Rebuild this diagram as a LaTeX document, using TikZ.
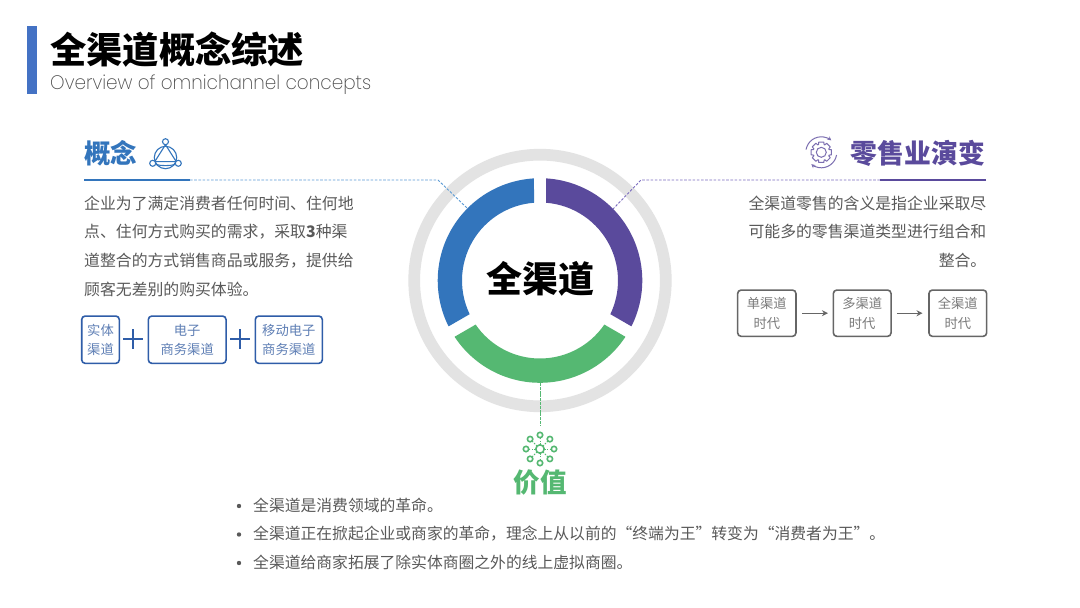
\documentclass[tikz,border=0pt]{standalone}
\usepackage{fontspec}
\setmainfont{Noto Sans CJK SC}
\newfontfamily\subfont[FakeStretch=0.94]{Poppins ExtraLight}
\usetikzlibrary{arrows.meta}
\definecolor{barblue}{HTML}{4472C4}
\definecolor{cblue}{HTML}{3375BC}
\definecolor{cpurple}{HTML}{5A4A9C}
\definecolor{cgreen}{HTML}{55B872}
\definecolor{lblue}{HTML}{5B9BD5}
\definecolor{lpurple}{HTML}{7B6CC0}
\definecolor{boxblue}{HTML}{2F5DA8}
\definecolor{boxtext}{HTML}{5F7FB5}
\definecolor{boxgray}{HTML}{666666}
\definecolor{bodygray}{HTML}{595959}
\definecolor{ringgray}{HTML}{E3E3E3}
\tikzset{
  heading/.style={inner sep=0pt,font=\fontsize{26.5}{30}\selectfont\bfseries},
  bodytext/.style={inner sep=0pt,text=bodygray,font=\fontsize{15.85}{28.7}\selectfont},
  bullettext/.style={inner sep=0pt,anchor=west,text=bodygray,font=\fontsize{15.8}{18}\selectfont},
  bluebox/.style={draw=boxblue,line width=1.6pt,rounded corners=3.5pt,text=boxtext,inner sep=0pt,align=center,font=\fontsize{13.3}{19}\selectfont},
  graybox/.style={draw=boxgray,line width=1.6pt,rounded corners=3.5pt,text=bodygray!80,inner sep=0pt,align=center,font=\fontsize{13.3}{19.5}\selectfont},
  flowarrow/.style={draw=boxgray,line width=1.3pt,-{Stealth[length=6pt,width=6pt]}},
  plusbar/.style={draw=boxblue,line width=1.7pt},
  leader/.style={line width=.9pt,dash pattern=on 2.6pt off 1.6pt},
  bulletdot/.style={fill=bodygray,circle,inner sep=0pt,minimum size=4.4pt},
}
\begin{document}
\begin{tikzpicture}[x=1pt,y=1pt,yscale=-1]
\useasboundingbox (0,0) rectangle (1080,608);
\fill[white] (0,0) rectangle (1080,608);

% header
\fill[barblue] (27,26) rectangle (37,93.5);
\node[inner sep=0pt,anchor=west,font=\fontsize{36.3}{40}\selectfont\bfseries] (title) at (50,50) {全渠道概念综述};
\node[inner sep=0pt,anchor=west,text=black!70,font=\subfont\fontsize{19.6}{22}\selectfont] (subtitle) at (50,85) {Overview of omnichannel concepts};

% rings
\draw[ringgray,line width=11.7pt] (540,280.5) circle (125.8);
\begin{scope}[shift={(540,280.5)}]
\fill[cblue] (-93.37:102.3) arc (-93.37:-206.63:102.3) -- (-205.59:78) arc (-205.59:-94.41:78) -- cycle;
\fill[cgreen] (-213.37:102.3) arc (-213.37:-326.63:102.3) -- (-325.59:78) arc (-325.59:-214.41:78) -- cycle;
\fill[cpurple] (-333.37:102.3) arc (-333.37:-446.63:102.3) -- (-445.59:78) arc (-445.59:-334.41:78) -- cycle;
\end{scope}
\node[inner sep=0pt,font=\fontsize{36}{40}\selectfont\bfseries] (center) at (540,279) {全渠道};

% leader lines
\coordinate (bl0) at (84,180);
\coordinate (bl1) at (190,180);
\coordinate (bl2) at (438,180);
\coordinate (bl3) at (467,208);
\coordinate (pl0) at (986,180);
\coordinate (pl1) at (880,180);
\coordinate (pl2) at (641,180);
\coordinate (pl3) at (613,209);
\coordinate (gl0) at (540,383);
\coordinate (gl1) at (540,426);
\draw[cblue,line width=1.2pt] (bl0) -- (bl1);
\draw[lblue,leader] (bl1) -- (bl2) -- (bl3);
\draw[cpurple,line width=1.2pt] (pl0) -- (pl1);
\draw[lpurple,leader] (pl1) -- (pl2) -- (pl3);
\draw[cgreen,line width=.9pt,dash pattern=on 3pt off .8pt] (gl0) -- (gl1);

% concept
\node[heading,anchor=west,text=cblue] (h1) at (84,153) {概念};
\begin{scope}[cblue,line width=1.1pt]
\draw (165.5,157.5) circle (11.2);
\draw (165.5,144.7) -- (154.8,161.6) -- (176.2,161.6) -- cycle;
\draw (156,164.5) .. controls (161,166) and (170,166) .. (175,164.5);
\draw[fill=white] (165.5,141.7) circle (3);
\draw[fill=white] (152.7,163.3) circle (3);
\draw[fill=white] (178.3,163.3) circle (3);
\end{scope}
\node[bodytext,anchor=north west,align=left] (body1) at (84,195.5) {企业为了满定消费者任何时间、住何地\\点、住何方式购买的需求，采取\textbf{3}种渠\\道整合的方式销售商品或服务，提供给\\顾客无差别的购买体验。};

\node[bluebox,minimum width=37.6pt,minimum height=47.3pt] (b1) at (100.5,339.7) {实体\\渠道};
\node[bluebox,minimum width=77.7pt,minimum height=47.3pt] (b2) at (187.2,339.7) {电子\\商务渠道};
\node[bluebox,minimum width=67pt,minimum height=47.3pt] (b3) at (288.8,339.7) {移动电子\\商务渠道};
\draw[plusbar] (123.3,339.3) -- (143.3,339.3) (133.3,329.3) -- (133.3,349.3);
\draw[plusbar] (230.3,339.3) -- (250.3,339.3) (240.3,329.3) -- (240.3,349.3);

% retail
\node[heading,anchor=east,text=cpurple,font=\fontsize{26.8}{30}\selectfont\bfseries] (h2) at (985,153) {零售业演变};
\begin{scope}[shift={(821.3,152.3)},cpurple!80,line width=1pt]
\draw[line join=round] (-14:10.5)
  \foreach \a in {0,45,...,315}{ -- (\a-14:10.5) -- (\a+14:10.5) -- (\a+20:8.2) -- (\a+25:8.2)} -- cycle;
\draw (0,0) circle (5);
\draw[-{Stealth[length=4pt,width=4pt]}] (-170:15.5) arc (-170:-50:15.5);
\draw[-{Stealth[length=4pt,width=4pt]}] (10:15.5) arc (10:130:15.5);
\end{scope}
\node[bodytext,anchor=north east,align=right] (body2) at (986.5,195.5) {全渠道零售的含义是指企业采取尽\\可能多的零售渠道类型进行组合和\\整合。};

\node[graybox,minimum width=58.3pt,minimum height=46.3pt] (e1) at (766.8,313.2) {单渠道\\时代};
\node[graybox,minimum width=57.7pt,minimum height=46.3pt] (e2) at (862.2,313.2) {多渠道\\时代};
\node[graybox,minimum width=57.7pt,minimum height=46.3pt] (e3) at (957.8,313.2) {全渠道\\时代};
\draw[flowarrow,shorten <=5.5pt,shorten >=4.6pt] (e1.east) -- (e2.west);
\draw[flowarrow,shorten <=5pt,shorten >=5.6pt] (e2.east) -- (e3.west);

% value icon
\begin{scope}[shift={(540,449)},cgreen,line width=1.6pt]
\foreach \a in {0,45,...,315}{
  \draw[line width=.9pt,dash pattern=on 1.6pt off 1.2pt] (\a:4) -- (\a:11.5);
  \draw[fill=white] (\a:14) circle (2.7);
}
\draw[fill=white] (0,0) circle (4.2);
\end{scope}
\node[heading,text=cgreen] (h3) at (540,483) {价值};

% bullets
\node[bulletdot] (d1) at (239,506) {};
\node[bulletdot] (d2) at (239,534.5) {};
\node[bulletdot] (d3) at (239,563) {};
\node[bullettext] (t1) at (253,505) {全渠道是消费领域的革命。};
\node[bullettext] (t2) at (253,534) {全渠道正在掀起企业或商家的革命，理念上从以前的“终端为王”转变为“消费者为王”。};
\node[bullettext] (t3) at (253,562) {全渠道给商家拓展了除实体商圈之外的线上虚拟商圈。};
\end{tikzpicture}
\end{document}
